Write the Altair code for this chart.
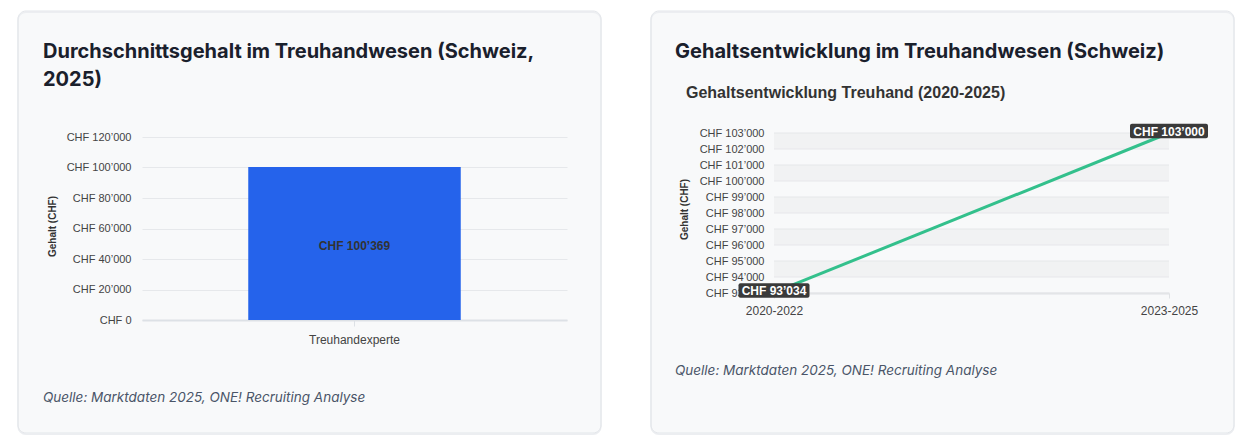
import altair as alt
import pandas as pd

# ---------------- data ----------------
roles = ["Treuhandexperte"]
avg_salaries = [100369]
bar_ticks = [0, 20000, 40000, 60000, 80000, 100000, 120000]

periods = ["2020-2022", "2023-2025"]
trend_salaries = [93034, 103000]
trend_ticks = [93000, 94000, 95000, 96000, 97000, 98000, 99000, 100000, 101000, 102000, 103000]

title_left = ["Durchschnittsgehalt im Treuhandwesen (Schweiz,", "2025)"]
title_right = "Gehaltsentwicklung im Treuhandwesen (Schweiz)"
subtitle_right = "Gehaltsentwicklung Treuhand (2020-2025)"
source_text = "Quelle: Marktdaten 2025, ONE! Recruiting Analyse"
y_title = "Gehalt (CHF)"


def chf(v):
    return "CHF " + f"{v:,}".replace(",", "\u2019")


LABEL_EXPR = "'CHF ' + replace(format(datum.value, ',d'), ',', '\u2019')"

CARD = "#f8f9fa"
BORDER = "#e3e6ea"
TITLE_C = "#1a202c"
SRC_C = "#4a5568"
AX_C = "#444444"
AX_FONT = "Liberation Sans"
HEAD_FONT = "Inter"

bar_df = pd.DataFrame({"role": roles, "salary": avg_salaries,
                       "label": [chf(v) for v in avg_salaries]})
trend_df = pd.DataFrame({"idx": list(range(len(periods))), "period": periods,
                         "salary": trend_salaries,
                         "label": [chf(v) for v in trend_salaries]})
band_df = pd.DataFrame({"lo": [t for t in trend_ticks[1:-1:2]],
                        "hi": [t + 1000 for t in trend_ticks[1:-1:2]]})
grid_df = pd.DataFrame({"t": trend_ticks})
one = pd.DataFrame({"_": [0]})


def white_rect(x1, x2, y1, y2):
    return alt.Chart(one).mark_rect(color="white").encode(
        x=alt.value(x1), x2=alt.value(x2), y=alt.value(y1), y2=alt.value(y2))


def card_layers(x1, x2, y1, y2):
    s = 25
    outer = alt.Chart(one).mark_rect(
        fillOpacity=0, stroke="white", strokeWidth=s, cornerRadius=8 + s / 2
    ).encode(x=alt.value(x1 - s / 2), x2=alt.value(x2 + s / 2),
             y=alt.value(y1 - s / 2), y2=alt.value(y2 + s / 2))
    shadow = alt.Chart(one).mark_rect(
        fillOpacity=0, stroke="#eceef1", strokeWidth=1.5, cornerRadius=8
    ).encode(x=alt.value(x1), x2=alt.value(x2), y=alt.value(y1 + 1.2), y2=alt.value(y2 + 1.2))
    border = alt.Chart(one).mark_rect(
        fillOpacity=0, stroke=BORDER, strokeWidth=1, cornerRadius=8
    ).encode(x=alt.value(x1), x2=alt.value(x2), y=alt.value(y1), y2=alt.value(y2))
    return [outer, shadow, border]


def text_layer(txt, x, y, size, color, font, weight="normal", style="normal", lh=None):
    kw = dict(align="left", baseline="alphabetic", fontSize=size, color=color,
              font=font, fontWeight=weight, fontStyle=style)
    if lh:
        kw["lineHeight"] = lh
    return alt.Chart(one).mark_text(**kw).encode(
        x=alt.value(x), y=alt.value(y), text=alt.value(txt))


# ---------------- left chart ----------------
W1, H1 = 425, 187
y1_scale = alt.Scale(domain=[0, 120000], range=[H1, 4])
y1_axis = alt.Axis(values=bar_ticks, labelExpr=LABEL_EXPR, title=y_title,
                   grid=True, gridColor="#e6e8eb", domain=False, ticks=False,
                   labelPadding=11, labelFontSize=11, labelColor=AX_C,
                   labelFont=AX_FONT, titleFont=AX_FONT, titleFontSize=10,
                   titleFontWeight="bold", titleColor="#333333",
                   titleX=-85, titleY=93)
x1_axis = alt.Axis(labelAngle=0, domainColor="#dde1e6", domainWidth=2,
                   tickColor="#dde1e6", tickSize=6, labelPadding=8,
                   labelFontSize=12, labelColor=AX_C, labelFont=AX_FONT)

bars = alt.Chart(bar_df).mark_bar(color="#2563eb").encode(
    x=alt.X("role:N", title=None, scale=alt.Scale(paddingInner=0, paddingOuter=0.5),
            axis=x1_axis),
    y=alt.Y("salary:Q", scale=y1_scale, axis=y1_axis),
)
bar_text = alt.Chart(bar_df).transform_calculate(mid="datum.salary / 2").mark_text(
    font=AX_FONT, fontSize=12, fontWeight="bold", color="#333333", dy=3
).encode(x=alt.X("role:N", title=None, axis=x1_axis),
         y=alt.Y("mid:Q", scale=y1_scale, axis=y1_axis), text="label:N")

# white surroundings outside the cards (relative to left plot origin)
surround = [
    white_rect(-400, 1500, -400, -122),   # top
    white_rect(-400, 1500, 300, 600),     # bottom
    white_rect(-400, -124, -400, 600),    # left
    white_rect(459, 509, -400, 600),      # gap between the cards
    white_rect(1092, 1500, -400, 600),    # right
]

left = alt.layer(
    *surround,
    *card_layers(-124, 459, -122, 300),
    bars, bar_text,
    text_layer(title_left, -99, -75, 20, TITLE_C, HEAD_FONT, weight="bold", lh=28),
    text_layer(source_text, -99, 269, 13.5, SRC_C, HEAD_FONT, style="italic"),
).properties(width=W1, height=H1)

# ---------------- right chart ----------------
W2, H2 = 395, 160
y2_scale = alt.Scale(domain=[93000, 103000], nice=False, zero=False)
x2_scale = alt.Scale(domain=[0, len(periods) - 1], nice=False, zero=False)
PERIOD_EXPR = "[" + ",".join("'" + p + "'" for p in periods) + "][datum.value]"

y2_axis = alt.Axis(values=trend_ticks, labelExpr=LABEL_EXPR, title=y_title,
                   grid=False, domain=False, ticks=False, labelPadding=10,
                   labelFontSize=11, labelColor=AX_C, labelFont=AX_FONT,
                   titleFont=AX_FONT, titleFontSize=10, titleFontWeight="bold",
                   titleColor="#333333", titleX=-85, titleY=76)
x2_axis = alt.Axis(values=list(range(len(periods))), labelExpr=PERIOD_EXPR,
                   grid=False, domainColor="#e0e2e5", domainWidth=2,
                   tickColor="#e0e2e5", tickSize=5, labelPadding=7,
                   labelFontSize=12, labelColor=AX_C, labelFont=AX_FONT,
                   labelFlush=False)

X2 = alt.X("idx:Q", scale=x2_scale, title=None, axis=x2_axis)
Y2 = alt.Y("salary:Q", scale=y2_scale, axis=y2_axis)

bands = alt.Chart(band_df).mark_rect(color="#f1f2f3").encode(
    x=alt.value(0), x2=alt.value("width"),
    y=alt.Y("lo:Q", scale=y2_scale, axis=y2_axis), y2="hi:Q")
grid = alt.Chart(grid_df).mark_rule(color="#e6e7ea", strokeWidth=1).encode(
    x=alt.value(0), x2=alt.value("width"),
    y=alt.Y("t:Q", scale=y2_scale, axis=y2_axis))

line = alt.Chart(trend_df).mark_line(color="#33c08c", strokeWidth=3,
                                     interpolate="monotone").encode(x=X2, y=Y2)

box_widths = [71, 78]
boxes = [
    alt.Chart(trend_df).transform_filter(f"datum.idx == {i}").mark_rect(
        color="#3a3a3a", width=w, height=14.5, cornerRadius=2, yOffset=-2
    ).encode(x=X2, y=Y2)
    for i, w in enumerate(box_widths)
]
box_text = alt.Chart(trend_df).mark_text(
    font=AX_FONT, fontSize=12, fontWeight="bold", color="white", dy=-1.5
).encode(x=X2, y=Y2, text="label:N")

right = alt.layer(
    *card_layers(-123, 460, -122, 300),
    bands, grid, line, *boxes, box_text,
    text_layer(title_right, -99, -75, 20, TITLE_C, HEAD_FONT, weight="bold"),
    text_layer(subtitle_right, -88, -35, 16, "#333333", AX_FONT, weight="bold"),
    text_layer(source_text, -99, 242, 13.5, SRC_C, HEAD_FONT, style="italic"),
).properties(width=W2, height=H2)

chart = alt.hconcat(left, right, spacing=207, bounds="flush").properties(
    autosize=alt.AutoSizeParams(type="none"),
    padding={"left": 134, "top": 125, "right": 1102, "bottom": 306},
    background=CARD,
).configure_view(strokeWidth=0)

chart.save("out.html", embed_options={"renderer": "svg", "actions": False})
